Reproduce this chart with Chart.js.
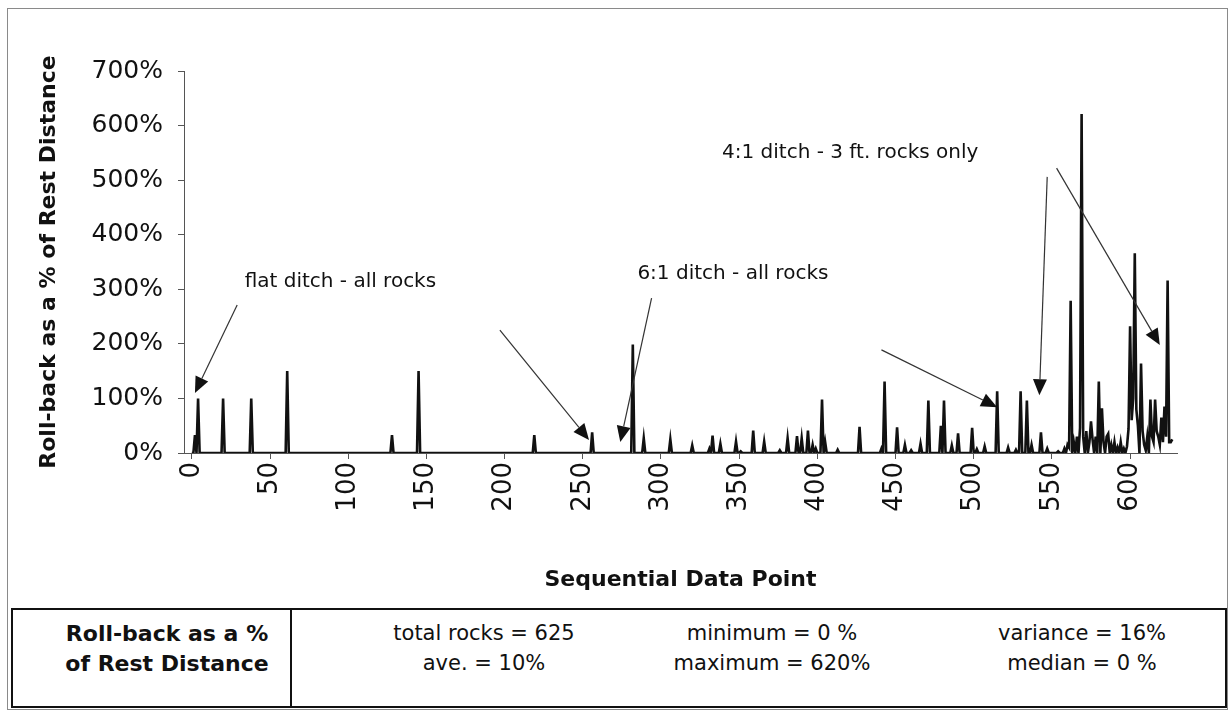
<!DOCTYPE html>
<html>
<head>
<meta charset="utf-8">
<script src="https://cdn.jsdelivr.net/npm/chart.js@4.4.1/dist/chart.umd.min.js"></script>
<style>
  html, body { margin: 0; padding: 0; background: #fff; }
  #wrap { position: relative; width: 1231px; height: 710px; overflow: hidden; }
  #frame { position: absolute; left: 7px; top: 8px; width: 1221px; height: 702px; border: 1px solid #8a8a8a; box-sizing: border-box; }
  #chart { position: absolute; left: 0; top: 0; }
  #stats { position: absolute; left: 11px; top: 608px; width: 1216px; height: 100px; border: 2px solid #111;
           box-sizing: border-box; font-family: 'DejaVu Sans', sans-serif; font-size: 21px; color: #111; }
  #stats .sep { position: absolute; left: 277px; top: 0; bottom: 0; border-left: 2px solid #111; }
  #stats span { position: absolute; transform: translate(-50%, -50%); white-space: nowrap; }
  #stats .b { font-weight: bold; font-size: 22px; }
</style>
</head>
<body>
<div id="wrap">
  <div id="frame"></div>
  <canvas id="chart" width="1231" height="600"></canvas>
  <div id="stats">
    <div class="sep"></div>
    <span class="b" style="left:154px;top:23px">Roll-back as a %</span>
    <span class="b" style="left:154px;top:53px">of Rest Distance</span>
    <span style="left:471px;top:23px">total rocks = 625</span>
    <span style="left:471px;top:53px">ave. = 10%</span>
    <span style="left:759px;top:23px">minimum = 0 %</span>
    <span style="left:759px;top:53px">maximum = 620%</span>
    <span style="left:1069px;top:23px">variance = 16%</span>
    <span style="left:1069px;top:53px">median = 0 %</span>
  </div>
</div>
<script>
  /* ── data: sparse non-zero points, rest are 0 ── */
  const pointCount = 628;
  const spikeIdx = [2, 4, 20, 38, 61, 128, 145, 219, 256, 282, 289, 306, 320, 331, 333, 338, 348, 351, 359, 366,
    376, 381, 387, 390, 394, 397, 399, 403, 405, 413, 427, 441, 443, 451, 456, 460, 466, 471, 479, 481,
    486, 490, 499, 502, 507, 515, 522, 527, 530, 534, 537, 543, 547, 554, 558, 560, 561, 562, 564, 566,
    568, 569, 570, 572, 574, 575, 576, 578, 580, 582, 583, 585, 586, 588, 590, 592, 594, 596, 598, 599,
    600, 601, 602, 603, 604, 605, 607, 608, 609, 610, 611, 613, 614, 615, 616, 617, 618, 619, 620, 621,
    622, 623, 624, 625, 626, 627];
  const spikeVal = [33, 100, 100, 100, 150, 33, 150, 33, 38, 199, 27, 25, 14, 8, 32, 17, 21, 3, 41, 21,
    5, 27, 31, 27, 41, 15, 8, 98, 20, 6, 48, 8, 131, 47, 15, 5, 17, 96, 50, 96,
    14, 36, 46, 7, 12, 113, 10, 6, 113, 96, 15, 38, 8, 3, 8, 15, 10, 279, 20, 30,
    46, 621, 30, 40, 20, 58, 25, 30, 131, 82, 20, 30, 35, 15, 20, 10, 20, 8, 12, 44,
    232, 60, 100, 366, 80, 50, 164, 40, 15, 5, 30, 98, 30, 20, 98, 40, 30, 15, 65, 20,
    85, 30, 316, 20, 20, 25];
  const xTicks = [0, 50, 100, 150, 200, 250, 300, 350, 400, 450, 500, 550, 600];
  const yTicks = [0, 100, 200, 300, 400, 500, 600, 700];

  /* ── call-outs, in data units ── */
  const noteText = ['flat ditch - all rocks', '6:1 ditch - all rocks', '4:1 ditch - 3 ft. rocks only'];
  const noteX = [95, 346, 421];
  const noteY = [313, 328, 550];
  const arrowFromX = [29, 197, 294, 441, 547, 553];
  const arrowFromY = [271, 225, 284, 189, 506, 522];
  const arrowToX = [2, 254, 274, 515, 542, 619];
  const arrowToY = [110, 24, 20, 84, 106, 198];

  const INK = '#111';
  const AXIS = '#555';
  const FONT = "'DejaVu Sans', sans-serif";

  const series = [];
  for (let i = 0; i < pointCount; i++) series.push({ x: i, y: 0 });
  spikeIdx.forEach((ix, k) => { series[ix].y = spikeVal[k]; });

  const calloutPlugin = {
    id: 'callouts',
    afterDatasetsDraw(chart) {
      const { ctx, scales: { x, y } } = chart;
      ctx.save();
      ctx.fillStyle = INK;
      ctx.font = '20px ' + FONT;
      ctx.textAlign = 'center';
      ctx.textBaseline = 'middle';
      noteText.forEach((t, i) => ctx.fillText(t, x.getPixelForValue(noteX[i]), y.getPixelForValue(noteY[i])));

      ctx.strokeStyle = '#333';
      ctx.lineWidth = 1.2;
      arrowFromX.forEach((_, i) => {
        const x1 = x.getPixelForValue(arrowFromX[i]), y1 = y.getPixelForValue(arrowFromY[i]);
        const x2 = x.getPixelForValue(arrowToX[i]), y2 = y.getPixelForValue(arrowToY[i]);
        const a = Math.atan2(y2 - y1, x2 - x1);
        const len = 16, half = 7;
        const bx = x2 - len * Math.cos(a), by = y2 - len * Math.sin(a);
        ctx.beginPath();
        ctx.moveTo(x1, y1);
        ctx.lineTo(bx, by);
        ctx.stroke();
        ctx.beginPath();
        ctx.moveTo(x2, y2);
        ctx.lineTo(bx + half * Math.sin(a), by - half * Math.cos(a));
        ctx.lineTo(bx - half * Math.sin(a), by + half * Math.cos(a));
        ctx.closePath();
        ctx.fill();
      });
      ctx.restore();
    }
  };

  new Chart(document.getElementById('chart'), {
    type: 'line',
    data: {
      datasets: [{
        data: series,
        borderColor: INK,
        borderWidth: 2.6,
        pointRadius: 0,
        tension: 0,
        fill: false
      }]
    },
    options: {
      responsive: false,
      animation: false,
      layout: { padding: { top: 71, right: 54 } },
      plugins: { legend: { display: false }, tooltip: { enabled: false } },
      scales: {
        x: {
          type: 'linear',
          min: -5,
          max: 630,
          afterBuildTicks: s => { s.ticks = xTicks.map(v => ({ value: v })); },
          afterFit: s => { s.height = 147; },
          ticks: { color: INK, font: { family: FONT, size: 26 }, minRotation: 90, maxRotation: 90, padding: 3 },
          grid: { drawOnChartArea: false, tickLength: 6, color: AXIS },
          border: { color: AXIS, width: 1 },
          title: {
            display: true, text: 'Sequential Data Point', color: INK,
            font: { family: FONT, size: 22, weight: 'bold' }, padding: { top: 0, bottom: 7 }
          }
        },
        y: {
          min: 0,
          max: 700,
          afterBuildTicks: s => { s.ticks = yTicks.map(v => ({ value: v })); },
          afterFit: s => { s.width = 184; },
          ticks: { color: INK, font: { family: FONT, size: 25 }, padding: 15, callback: v => v + '%' },
          grid: { drawOnChartArea: false, tickLength: 6, color: AXIS },
          border: { color: AXIS, width: 1 },
          title: {
            display: true, text: 'Roll-back as a % of Rest Distance', color: INK,
            font: { family: FONT, size: 22, weight: 'bold' }, padding: { top: 36, bottom: 0 }
          }
        }
      }
    },
    plugins: [calloutPlugin]
  });
</script>
</body>
</html>
